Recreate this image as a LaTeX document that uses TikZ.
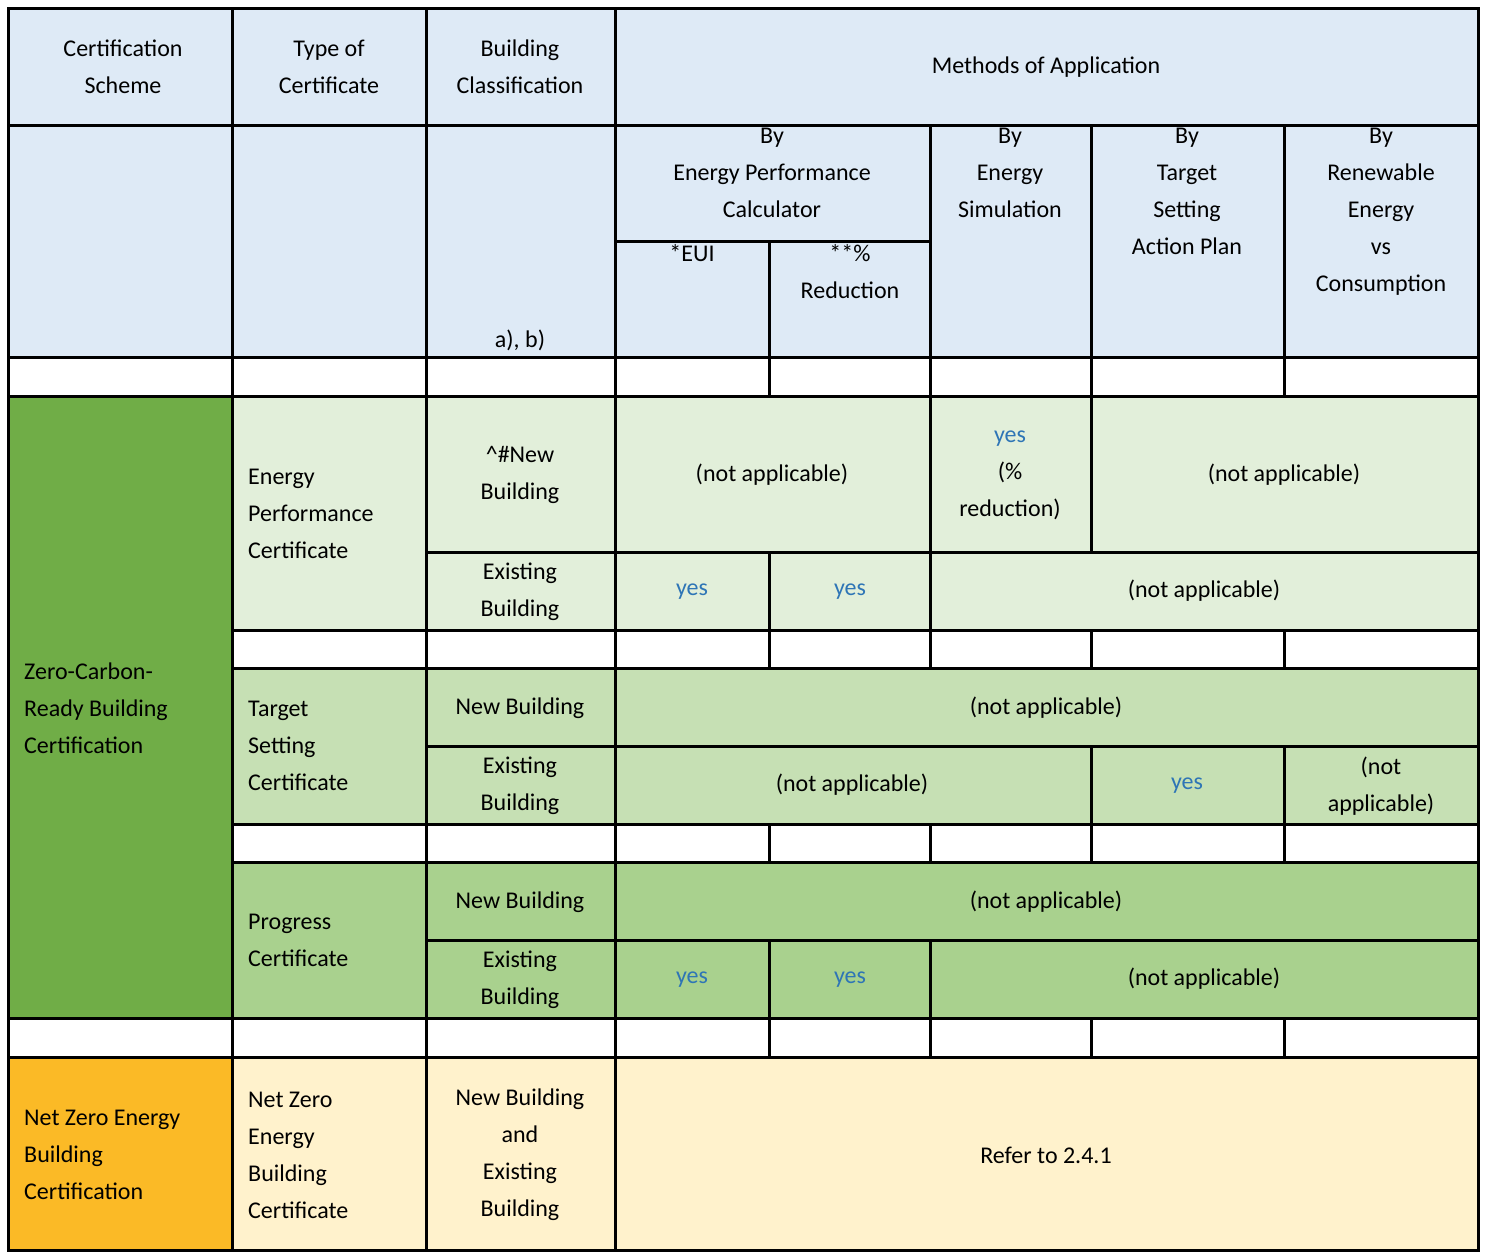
\documentclass[tikz,border=0pt]{standalone}
\usepackage{fontspec}
\setmainfont{Carlito}
\definecolor{hb}{HTML}{DEEAF6}
\definecolor{g0}{HTML}{70AD47}
\definecolor{g1}{HTML}{E2EFDA}
\definecolor{g2}{HTML}{C6E0B4}
\definecolor{g3}{HTML}{A9D18E}
\definecolor{or}{HTML}{FBBA26}
\definecolor{ly}{HTML}{FFF2CC}
\definecolor{yb}{HTML}{2E75B6}
\newcommand\cel[5]{\filldraw[fill=#5,draw=black,line width=3pt] (#1,#2) rectangle (#3,#4);}
\begin{document}
\begin{tikzpicture}[x=1pt,y=-1pt,
  every node/.style={font=\fontsize{24}{37}\selectfont,align=center,inner sep=0pt},
  L/.style={align=left,anchor=west},
  Y/.style={text=yb}]
\useasboundingbox (0,0) rectangle (1488,1259);
\fill[white] (0,0) rectangle (1488,1259);
% header
\cel{8}{8}{232}{125}{hb}\cel{232}{8}{426}{125}{hb}\cel{426}{8}{615}{125}{hb}\cel{615}{8}{1478}{125}{hb}
\node (h1) at (123,67) {Certification\\Scheme};
\node (h2) at (329,67) {Type of\\Certificate};
\node (h3) at (520,67) {Building\\Classification};
\node (h4) at (1046,67) {Methods of Application};
\cel{8}{125}{232}{357}{hb}\cel{232}{125}{426}{357}{hb}\cel{426}{125}{615}{357}{hb}
\cel{615}{125}{930}{241}{hb}\cel{615}{241}{769}{357}{hb}\cel{769}{241}{930}{357}{hb}
\cel{930}{125}{1091}{357}{hb}\cel{1091}{125}{1284}{357}{hb}\cel{1284}{125}{1478}{357}{hb}
\node (ab) at (520,340) {a), b)};
\node[anchor=north] (m1) at (772,128) {By\\Energy Performance\\Calculator};
\node[anchor=north] (m1a) at (692,244) {*EUI};
\node[anchor=north] (m1b) at (850,244) {**\%\\Reduction};
\node[anchor=north] (m2) at (1010,128) {By\\Energy\\Simulation};
\node[anchor=north] (m3) at (1187,128) {By\\Target\\Setting\\Action Plan};
\node[anchor=north] (m4) at (1381,128) {By\\Renewable\\Energy\\vs\\Consumption};
% spacer rows
\foreach \a/\b in {357/396,630/668,824/862,1018/1057}{
  \foreach \x/\y in {232/426,426/615,615/769,769/930,930/1091,1091/1284,1284/1478}{\cel{\x}{\a}{\y}{\b}{white}}}
\cel{8}{357}{232}{396}{white}\cel{8}{1018}{232}{1057}{white}
% green block
\cel{8}{396}{232}{1018}{g0}
\node[L] (z) at (24,708) {Zero-Carbon-\\Ready Building\\Certification};
% EPC
\cel{232}{396}{426}{630}{g1}\cel{426}{396}{615}{552}{g1}\cel{615}{396}{930}{552}{g1}\cel{930}{396}{1091}{552}{g1}\cel{1091}{396}{1478}{552}{g1}
\cel{426}{552}{615}{630}{g1}\cel{615}{552}{769}{630}{g1}\cel{769}{552}{930}{630}{g1}\cel{930}{552}{1478}{630}{g1}
\node[L] (e1) at (248,514) {Energy\\Performance\\Certificate};
\node (e2) at (520,475) {\^{}\#New\\Building};
\node (e3) at (772,475) {(not applicable)};
\node (e4) at (1010,475) {\textcolor{yb}{yes}\\(\%\\reduction)};
\node (e5) at (1284,475) {(not applicable)};
\node (e6) at (520,592) {Existing\\Building};
\node[Y] (e7) at (692,592) {yes};
\node[Y] (e8) at (850,592) {yes};
\node (e9) at (1204,591) {(not applicable)};
% TSC
\cel{232}{668}{426}{824}{g2}\cel{426}{668}{615}{746}{g2}\cel{615}{668}{1478}{746}{g2}
\cel{426}{746}{615}{824}{g2}\cel{615}{746}{1091}{824}{g2}\cel{1091}{746}{1284}{824}{g2}\cel{1284}{746}{1478}{824}{g2}
\node[L] (t1) at (248,746) {Target\\Setting\\Certificate};
\node (t2) at (520,708) {New Building};
\node (t3) at (1046,708) {(not applicable)};
\node (t4) at (520,786) {Existing\\Building};
\node (t5) at (852,785) {(not applicable)};
\node[Y] (t6) at (1187,786) {yes};
\node (t7) at (1381,786) {(not\\applicable)};
% PC
\cel{232}{862}{426}{1018}{g3}\cel{426}{862}{615}{940}{g3}\cel{615}{862}{1478}{940}{g3}
\cel{426}{940}{615}{1018}{g3}\cel{615}{940}{769}{1018}{g3}\cel{769}{940}{930}{1018}{g3}\cel{930}{940}{1478}{1018}{g3}
\node[L] (p1) at (248,940) {Progress\\Certificate};
\node (p2) at (520,902) {New Building};
\node (p3) at (1046,902) {(not applicable)};
\node (p4) at (520,980) {Existing\\Building};
\node[Y] (p5) at (692,980) {yes};
\node[Y] (p6) at (850,980) {yes};
\node (p7) at (1204,979) {(not applicable)};
% NZEB
\cel{8}{1057}{232}{1250}{or}\cel{232}{1057}{426}{1250}{ly}\cel{426}{1057}{615}{1250}{ly}\cel{615}{1057}{1478}{1250}{ly}
\node[L] (n1) at (24,1155) {Net Zero Energy\\Building\\Certification};
\node[L] (n2) at (248,1155) {Net Zero\\Energy\\Building\\Certificate};
\node (n3) at (520,1155) {New Building\\and\\Existing\\Building};
\node (n4) at (1046,1155) {Refer to 2.4.1};
\end{tikzpicture}
\end{document}
